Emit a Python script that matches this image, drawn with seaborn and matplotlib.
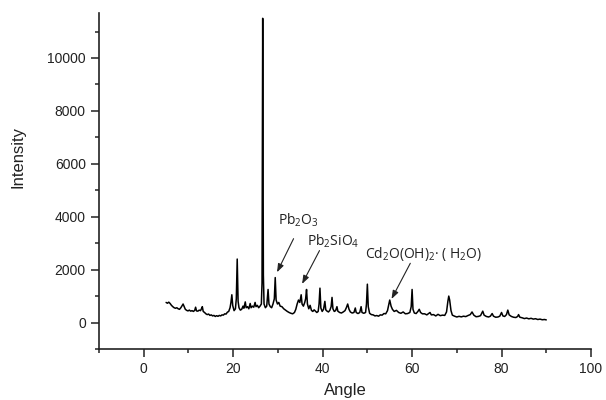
import matplotlib
matplotlib.use("Agg")
import matplotlib.pyplot as plt
import seaborn as sns
import pandas as pd
from matplotlib.ticker import MultipleLocator

# XRD pattern (angle in degrees 2-theta, counts)
angle = [
    5.0, 5.3, 5.6, 5.9, 6.2, 6.5, 6.8, 7.1, 7.4, 7.7, 8.0, 8.3, 8.6, 8.8, 9.0,
    9.3, 9.6, 9.9, 10.2, 10.5, 10.8, 11.1, 11.4, 11.6, 11.8, 12.1, 12.4, 12.7,
    12.9, 13.1, 13.3, 13.6, 13.9, 14.2, 14.5, 14.8, 15.1, 15.4, 15.7, 16.0,
    16.3, 16.6, 16.9, 17.2, 17.5, 17.8, 18.1, 18.4, 18.7, 19.0, 19.3, 19.5,
    19.7, 19.9, 20.2, 20.5, 20.7, 20.9, 21.1, 21.3, 21.6, 21.9, 22.2, 22.4,
    22.7, 22.9, 23.2, 23.5, 23.8, 24.0, 24.3, 24.6, 24.9, 25.1, 25.4, 25.7,
    26.0, 26.3, 26.45, 26.6, 26.75, 26.9, 27.2, 27.5, 27.8, 28.0, 28.3, 28.6,
    28.9, 29.2, 29.4, 29.6, 29.9, 30.2, 30.5, 30.9, 31.3, 31.7, 32.1, 32.5,
    32.9, 33.3, 33.7, 34.0, 34.3, 34.6, 34.9, 35.2, 35.4, 35.7, 36.0, 36.2,
    36.4, 36.6, 36.9, 37.2, 37.5, 37.8, 38.1, 38.4, 38.7, 39.0, 39.2, 39.4,
    39.6, 39.9, 40.2, 40.5, 40.7, 41.0, 41.3, 41.6, 41.9, 42.1, 42.3, 42.6,
    42.9, 43.2, 43.4, 43.8, 44.2, 44.6, 45.0, 45.3, 45.6, 45.9, 46.2, 46.6,
    47.0, 47.3, 47.5, 47.9, 48.3, 48.6, 48.8, 49.2, 49.6, 49.8, 50.0, 50.2,
    50.5, 50.9, 51.3, 51.7, 52.1, 52.5, 52.9, 53.3, 53.7, 54.1, 54.5, 54.8,
    55.0, 55.3, 55.6, 56.0, 56.5, 57.0, 57.5, 58.0, 58.5, 59.0, 59.5, 59.8,
    60.0, 60.2, 60.5, 60.9, 61.3, 61.6, 61.9, 62.3, 62.8, 63.3, 63.7, 64.0,
    64.3, 64.8, 65.3, 65.8, 66.3, 66.8, 67.3, 67.7, 68.0, 68.2, 68.4, 68.7,
    69.0, 69.5, 70.0, 70.5, 71.0, 71.5, 72.0, 72.5, 73.0, 73.4, 73.8, 74.3,
    74.8, 75.3, 75.8, 76.1, 76.6, 77.1, 77.5, 77.9, 78.2, 78.7, 79.2, 79.6,
    80.0, 80.3, 80.7, 81.1, 81.4, 81.7, 82.2, 82.7, 83.2, 83.6, 83.8, 84.1,
    84.6, 85.1, 85.6, 86.1, 86.6, 87.1, 87.6, 88.1, 88.6, 89.1, 89.6, 90.0,
]
intensity = [
    760, 730, 770, 720, 650, 600, 560, 540, 560, 520, 500, 560, 640, 700, 620,
    500, 460, 440, 470, 430, 450, 420, 460, 580, 440, 430, 470, 450,
    520, 600, 420, 380, 330, 300, 320, 270, 290, 250, 270, 230,
    260, 235, 270, 250, 290, 280, 330, 320, 390, 420, 560, 760,
    1050, 640, 450, 520, 900, 2400, 800, 560, 470, 500, 620, 540,
    780, 560, 600, 520, 720, 560, 620, 580, 760, 600, 650, 560,
    620, 700, 1500, 11500, 1800, 700, 560, 620, 1250, 700, 600, 560,
    700, 900, 1700, 850, 700, 760, 620, 600, 520, 470, 420, 380,
    350, 330, 380, 500, 700, 850, 760, 1050, 700, 620, 760, 900,
    1250, 700, 520, 650, 460, 420, 480, 430, 380, 420, 700, 1300,
    550, 420, 500, 800, 480, 430, 400, 460, 600, 950, 520, 420,
    450, 600, 430, 380, 360, 400, 450, 560, 700, 500, 400, 360,
    380, 550, 380, 340, 380, 600, 380, 350, 380, 700, 1450, 600,
    350, 300, 290, 250, 265, 240, 290, 280, 340, 330, 450, 700,
    850, 620, 500, 420, 460, 380, 350, 400, 330, 340, 380, 600,
    1250, 500, 360, 340, 420, 500, 380, 330, 330, 290, 340, 380,
    290, 300, 250, 310, 260, 280, 270, 400, 800, 1000, 850, 450,
    280, 240, 210, 235, 215, 240, 225, 265, 300, 400, 280, 220,
    230, 260, 430, 280, 230, 210, 240, 340, 240, 200, 210, 240,
    380, 250, 230, 300, 470, 290, 230, 200, 190, 230, 300, 200,
    180, 150, 170, 140, 160, 130, 145, 115, 130, 105, 115, 100,
]

# phase labels: text, text anchor (left, centre y), arrow tail, arrow tip
labels = ["Pb$_2$O$_3$", "Pb$_2$SiO$_4$", "Cd$_2$O(OH)$_2$· ( H$_2$O)"]
label_xy = [(30.0, 3870), (36.5, 3080), (49.4, 2600)]
arrow_tail = [(33.5, 3170), (39.3, 2720), (59.6, 2240)]
arrow_tip = [(29.8, 1900), (35.4, 1460), (55.4, 890)]

sns.set_style("ticks")
plt.rcParams["font.family"] = ["Liberation Sans", "DejaVu Sans"]
plt.rcParams["mathtext.fontset"] = "custom"
plt.rcParams["mathtext.rm"] = "Open Sans"
plt.rcParams["mathtext.default"] = "regular"

df = pd.DataFrame({"Angle": angle, "Intensity": intensity})

fig = plt.figure(figsize=(6.06, 4.0), dpi=100)
ax = fig.add_axes([99 / 606, 1 - 349 / 400, 492 / 606, 336 / 400])

sns.lineplot(data=df, x="Angle", y="Intensity", color="black", lw=1.1, ax=ax)

ax.set_xlim(-10, 100)
ax.set_ylim(-1000, 11700)
ax.xaxis.set_major_locator(MultipleLocator(20))
ax.xaxis.set_minor_locator(MultipleLocator(10))
ax.yaxis.set_major_locator(MultipleLocator(2000))
ax.yaxis.set_minor_locator(MultipleLocator(1000))
ax.set_yticks([0, 2000, 4000, 6000, 8000, 10000])

sns.despine(ax=ax)
for side in ["left", "bottom"]:
    ax.spines[side].set_linewidth(1.2)
    ax.spines[side].set_color("#222222")
ax.tick_params(which="major", length=6, width=1.1, color="#222222",
               labelsize=10, labelcolor="#222222")
ax.tick_params(which="minor", length=3, width=1.1, color="#222222")

ax.set_xlabel("Angle", fontsize=12, color="#222222")
ax.set_ylabel("Intensity", fontsize=12, color="#222222")
ax.xaxis.set_label_coords(0.5, -0.1)
ax.yaxis.set_label_coords(-0.15, 0.57)

for txt, pos, tail, tip in zip(labels, label_xy, arrow_tail, arrow_tip):
    ax.text(pos[0], pos[1], txt, ha="left", va="center", fontsize=10,
            family=["Open Sans", "DejaVu Sans"], color="#222222")
    ax.annotate("", xy=tip, xytext=tail,
                arrowprops=dict(arrowstyle="-|>,head_length=0.5,head_width=0.18",
                                color="#222222", lw=0.8,
                                shrinkA=0, shrinkB=0))

fig.savefig("out.png", dpi=100)
